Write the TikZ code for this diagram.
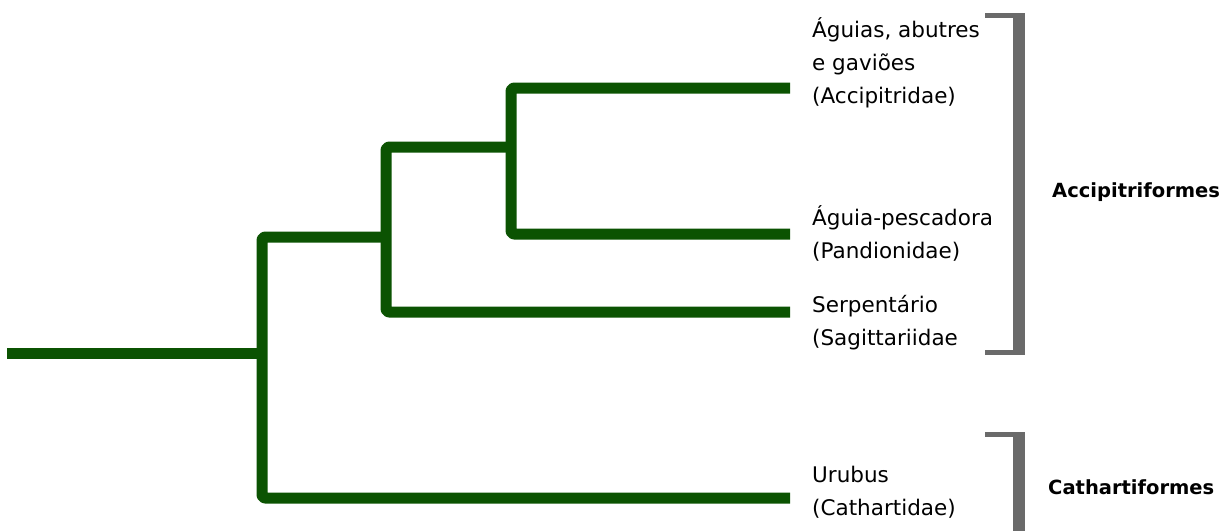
\documentclass[tikz,border=0pt]{standalone}
\usepackage{fontspec}
\setmainfont{DejaVu Sans}
\usepackage{xcolor}
\definecolor{treegreen}{RGB}{11,83,2}
\definecolor{brgray}{RGB}{106,106,106}

\tikzset{
  branch/.style={draw=treegreen, line width=11pt, rounded corners=3pt, line join=round},
  taxon/.style={font=\fontsize{21.5}{33}\selectfont, align=left, inner sep=0pt, anchor=base west},
  order/.style={font=\bfseries\fontsize{19.5}{24}\selectfont, inner sep=0pt, anchor=west},
  bracket/.style={fill=brgray}
}

\begin{document}
\begin{tikzpicture}[x=1pt,y=-1pt]
  \useasboundingbox (0,0) rectangle (1227,531);
  % nodes of the tree
  \coordinate (r0) at (7,353);
  \coordinate (n1) at (262,353);
  \coordinate (n2) at (386,237);
  \coordinate (n3) at (511,147);
  \coordinate (acc) at (790,88);
  \coordinate (pan) at (790,234);
  \coordinate (sag) at (790,312);
  \coordinate (cat) at (790,498);

  \draw[branch] (r0) -- (n1);
  \draw[branch] (n2) -| (n1) |- (cat);
  \draw[branch] (n3) -| (n2) |- (sag);
  \draw[branch] (acc) -| (n3) |- (pan);

  % labels (base = last line)
  \node[taxon] (accl) at (812,103) {Águias, abutres\\e gaviões\\(Accipitridae)};
  \node[taxon] (panl) at (812,258) {Águia-pescadora\\(Pandionidae)};
  \node[taxon] (sagl) at (812,345) {Serpentário\\(Sagittariidae};
  \node[taxon] (catl) at (812,515) {Urubus\\(Cathartidae)};

  % brackets
  \fill[bracket] (985,13) rectangle (1025,18);
  \fill[bracket] (1013,13) rectangle (1025,355);
  \fill[bracket] (985,350) rectangle (1025,355);
  \fill[bracket] (985,432) rectangle (1025,437);
  \fill[bracket] (1013,432) rectangle (1025,531);

  \node[order] (accf) at (1052,192) {Accipitriformes};
  \node[order] (catf) at (1048,487) {Cathartiformes};
\end{tikzpicture}
\end{document}
